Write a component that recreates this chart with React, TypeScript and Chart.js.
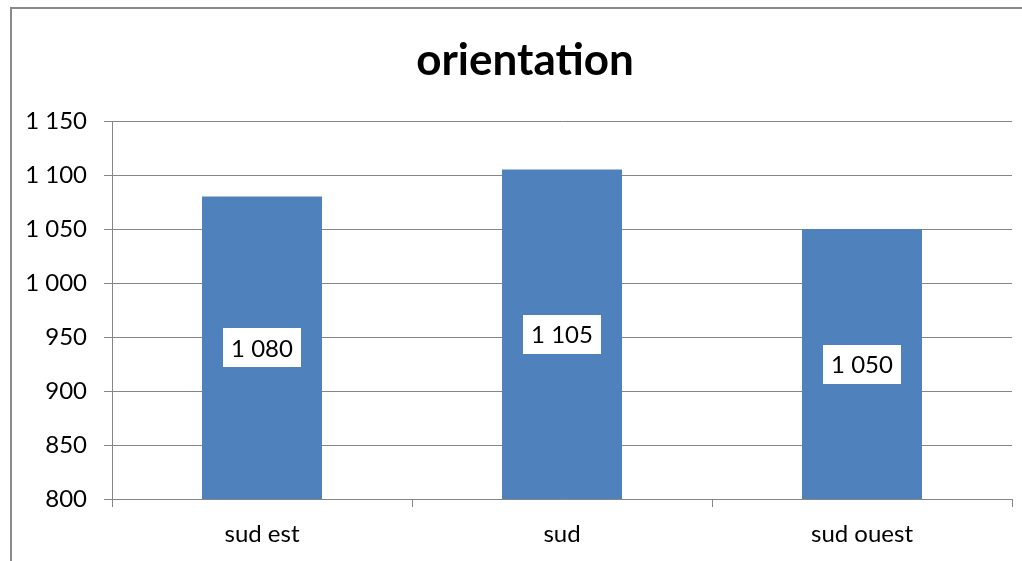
import React, { useEffect, useRef } from "react";
import { Chart, registerables } from "chart.js";

Chart.register(...registerables);

const categories = ["sud est", "sud", "sud ouest"];
const values = [1080, 1105, 1050];
const yMin = 800;
const yMax = 1150;
const yStep = 50;
const titleText = "orientation";

const FONT = "Lato, 'Open Sans', sans-serif";
const GRID = "#868686";
const BAR = "#4F81BD";

function fmt(v: number): string {
  return String(Math.round(v)).replace(/\B(?=(\d{3})+(?!\d))/g, " ");
}

const framePlugin = {
  id: "frame",
  beforeDraw(chart: any) {
    const ctx = chart.ctx;
    ctx.save();
    ctx.fillStyle = "#ffffff";
    ctx.fillRect(0, 0, chart.width, chart.height);
    ctx.strokeStyle = "#8a8a8a";
    ctx.lineWidth = 2;
    ctx.strokeRect(11, 8, chart.width + 50, chart.height + 50);
    ctx.restore();
  },
  afterDraw(chart: any) {
    const ctx = chart.ctx;
    ctx.save();
    ctx.fillStyle = "#000000";
    ctx.font = `bold 44px ${FONT}`;
    ctx.textAlign = "center";
    ctx.textBaseline = "alphabetic";
    ctx.fillText(titleText, 525, 75);
    ctx.restore();
  },
};

const labelPlugin = {
  id: "barLabels",
  afterDraw(chart: any) {
    const ctx = chart.ctx;
    const xs = chart.scales.x;
    const ys = chart.scales.y;
    const data = chart.data.datasets[0].data as number[];
    ctx.save();
    ctx.font = `24px ${FONT}`;
    ctx.textAlign = "center";
    ctx.textBaseline = "middle";
    data.forEach((v: number, i: number) => {
      const txt = fmt(v);
      const x = xs.getPixelForValue(i);
      const top = ys.getPixelForValue(v);
      const base = ys.getPixelForValue(yMin);
      const cy = (top + base) / 2;
      const w = ctx.measureText(txt).width + 16;
      const h = 39;
      ctx.fillStyle = "#ffffff";
      ctx.fillRect(Math.round(x - w / 2), Math.round(cy - h / 2), Math.round(w), h);
      ctx.fillStyle = "#000000";
      ctx.fillText(txt, x, cy + 1);
    });
    ctx.restore();
  },
};

export default function App() {
  const ref = useRef<HTMLCanvasElement | null>(null);
  useEffect(() => {
    if (!ref.current) return;
    const chart = new Chart(ref.current, {
      type: "bar",
      data: {
        labels: categories,
        datasets: [
          {
            data: values,
            backgroundColor: BAR,
            barPercentage: 0.4,
            categoryPercentage: 1,
          },
        ],
      },
      options: {
        animation: false,
        responsive: false,
        devicePixelRatio: 1,
        layout: { padding: { left: 0, right: 10, top: 121, bottom: 0 } },
        plugins: {
          legend: { display: false },
          tooltip: { enabled: false },
          title: { display: false },
        },
        scales: {
          x: {
            grid: {
              display: true,
              offset: true,
              drawOnChartArea: false,
              drawTicks: true,
              tickLength: 8,
              color: GRID,
              lineWidth: 1,
            },
            border: { display: true, color: GRID },
            ticks: {
              color: "#000000",
              font: { family: FONT, size: 24 },
              padding: 13,
              maxRotation: 0,
            },
            afterFit(scale: any) {
              scale.height = 62;
            },
          },
          y: {
            min: yMin,
            max: yMax,
            grid: {
              color: GRID,
              lineWidth: 1,
              tickLength: 8,
              drawTicks: true,
            },
            border: { display: true, color: GRID },
            ticks: {
              stepSize: yStep,
              color: "#000000",
              font: { family: FONT, size: 24 },
              padding: 17,
              callback: (v: any) => fmt(Number(v)),
            },
            afterFit(scale: any) {
              scale.width = 112;
            },
          },
        },
      },
      plugins: [framePlugin, labelPlugin],
    });
    return () => chart.destroy();
  }, []);
  return (
    <div style={{ position: "absolute", left: 0, top: 0, width: 1022, height: 561 }}>
      <canvas ref={ref} width={1022} height={561} />
    </div>
  );
}
